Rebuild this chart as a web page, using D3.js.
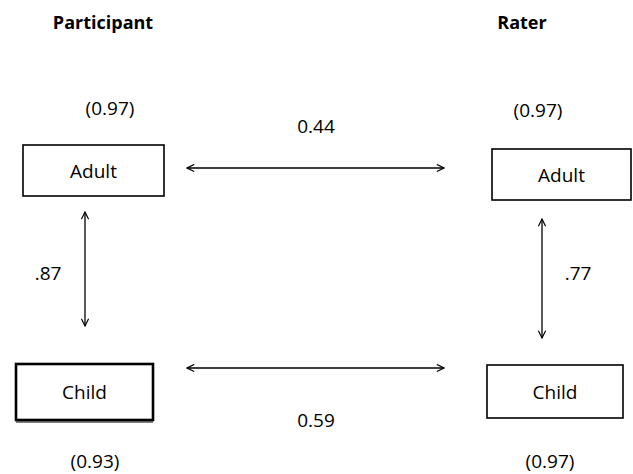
<!DOCTYPE html>
<html>
<head>
<meta charset="utf-8">
<script src="https://cdn.jsdelivr.net/npm/d3@7"></script>
<style>
  body { margin: 0; background: #fff; }
  svg text { font-family: "Open Sans", "Liberation Sans", sans-serif; fill: #000; }
</style>
</head>
<body>
<div id="chart"></div>
<script>
// data
const groups = ['Participant', 'Rater'];
const levels = ['Adult', 'Child'];
const reliability = [['(0.97)', '(0.93)'], ['(0.97)', '(0.97)']];
const crossCorr = ['0.44', '0.59'];      // adult-adult, child-child
const withinCorr = ['.87', '.77'];       // participant, rater

const width = 633, height = 474;

const svg = d3.select('#chart')
  .append('svg')
  .attr('width', width)
  .attr('height', height);

svg.append('defs').append('marker')
  .attr('id', 'head')
  .attr('viewBox', '0 0 10 10')
  .attr('refX', 9).attr('refY', 5)
  .attr('markerWidth', 9).attr('markerHeight', 9)
  .attr('markerUnits', 'userSpaceOnUse')
  .attr('orient', 'auto-start-reverse')
  .append('path')
  .attr('d', 'M1,1 L9,5 L1,9')
  .attr('fill', 'none')
  .attr('stroke', '#000')
  .attr('stroke-width', 1.3);

// box geometry per group / level (boxes in the original are not exactly aligned)
const boxes = [
  [{ x: 23, y: 145, w: 141, h: 51 }, { x: 16, y: 364, w: 137, h: 56 }],
  [{ x: 492, y: 149, w: 139, h: 51 }, { x: 487, y: 365, w: 136, h: 53 }]
];

const x = d3.scaleOrdinal().domain(groups).range([103, 522]);
const fs = 19;

// headers
svg.selectAll('.head')
  .data(groups)
  .enter().append('text')
  .attr('x', d => x(d))
  .attr('y', 29)
  .attr('text-anchor', 'middle')
  .attr('font-size', 18)
  .attr('font-weight', 'bold')
  .text(d => d);

// boxes
groups.forEach((g, gi) => {
  levels.forEach((l, li) => {
    const b = boxes[gi][li];
    const thick = gi === 0 && li === 1;
    svg.append('rect')
      .attr('x', b.x).attr('y', b.y)
      .attr('width', b.w).attr('height', b.h)
      .attr('fill', 'none')
      .attr('stroke', '#000')
      .attr('stroke-width', thick ? 2.6 : 1.6);
    if (thick) {
      svg.append('line')
        .attr('x1', b.x).attr('x2', b.x + b.w)
        .attr('y1', b.y + b.h + 2).attr('y2', b.y + b.h + 2)
        .attr('stroke', '#000').attr('stroke-width', 1);
    }
    svg.append('text')
      .attr('x', b.x + b.w / 2)
      .attr('y', b.y + b.h / 2 + 7)
      .attr('text-anchor', 'middle')
      .attr('font-size', fs)
      .text(l);
  });
});

// reliabilities
const relPos = [[{ x: 110, y: 115 }, { x: 95, y: 468 }], [{ x: 538, y: 117 }, { x: 550, y: 468 }]];
reliability.forEach((col, gi) => col.forEach((r, li) => {
  svg.append('text')
    .attr('x', relPos[gi][li].x).attr('y', relPos[gi][li].y)
    .attr('text-anchor', 'middle')
    .attr('font-size', fs)
    .text(r);
}));

// horizontal arrows
const hy = [168, 368];
crossCorr.forEach((c, i) => {
  svg.append('line')
    .attr('x1', 187).attr('x2', 444)
    .attr('y1', hy[i]).attr('y2', hy[i])
    .attr('stroke', '#000').attr('stroke-width', 1.3)
    .attr('marker-start', 'url(#head)')
    .attr('marker-end', 'url(#head)');
  svg.append('text')
    .attr('x', 316).attr('y', i === 0 ? 133 : 427)
    .attr('text-anchor', 'middle')
    .attr('font-size', fs)
    .text(c);
});

// vertical arrows
const vx = [{ x: 85, y1: 212, y2: 326, tx: 48 }, { x: 542, y1: 219, y2: 338, tx: 578 }];
withinCorr.forEach((c, i) => {
  const v = vx[i];
  svg.append('line')
    .attr('x1', v.x).attr('x2', v.x)
    .attr('y1', v.y1).attr('y2', v.y2)
    .attr('stroke', '#000').attr('stroke-width', 1.3)
    .attr('marker-start', 'url(#head)')
    .attr('marker-end', 'url(#head)');
  svg.append('text')
    .attr('x', v.tx).attr('y', 280)
    .attr('text-anchor', 'middle')
    .attr('font-size', fs)
    .text(c);
});
</script>
</body>
</html>
